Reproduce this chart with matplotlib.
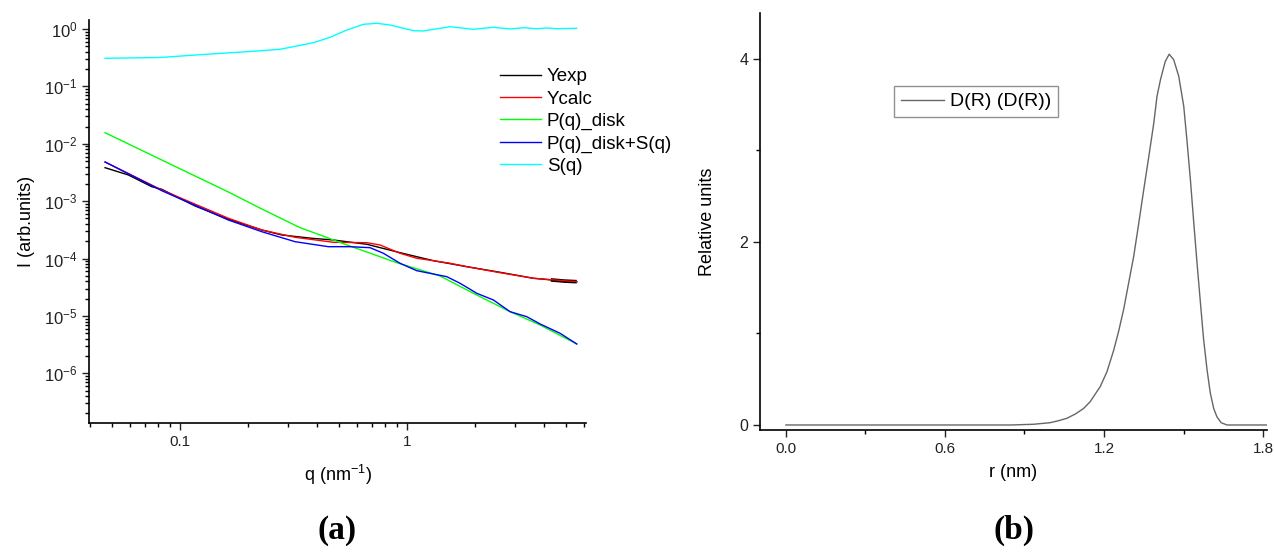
import numpy as np
import matplotlib
matplotlib.use("Agg")
import matplotlib.pyplot as plt
from matplotlib.ticker import LogLocator, NullFormatter, FuncFormatter, MultipleLocator

plt.rcParams['font.family'] = ['Liberation Sans', 'DejaVu Sans']
plt.rcParams['mathtext.fontset'] = 'custom'
plt.rcParams['mathtext.rm'] = 'Liberation Sans'
plt.rcParams['mathtext.it'] = 'Liberation Sans:italic'

# ---- panel (a): SAXS curves ----
q_exp = [0.0467, 0.0592, 0.0750, 0.0830, 0.1164, 0.1632, 0.2291, 0.2805, 0.3804,
         0.4733, 0.6645, 0.9316, 1.3058, 1.8323, 2.569, 3.601, 4.30, 4.95, 5.592]
I_exp = [3.835e-3, 2.860e-3, 1.789e-3, 1.612e-3, 8.25e-4, 4.84e-4, 3.15e-4, 2.577e-4, 2.258e-4,
         2.109e-4, 1.775e-4, 1.267e-4, 9.19e-5, 7.23e-5, 5.77e-5, 4.54e-5, 4.25e-5, 4.05e-5, 3.96e-5]

q_calc = [0.0467, 0.0830, 0.1632, 0.2291, 0.3210, 0.4733, 0.6645, 0.7606, 0.9316,
          1.1033, 1.3058, 1.5467, 1.8323, 2.569, 3.601, 5.592]
I_calc = [4.818e-3, 1.567e-3, 5.04e-4, 3.15e-4, 2.35e-4, 1.923e-4, 1.892e-4, 1.725e-4, 1.237e-4,
          1.012e-4, 9.19e-5, 8.28e-5, 7.23e-5, 5.68e-5, 4.54e-5, 3.96e-5]

q_disk = [0.0467, 0.0830, 0.1632, 0.2291, 0.3378, 0.4140, 0.5330, 0.9007, 1.3977, 1.959,
          2.843, 3.855, 5.592]
I_disk = [1.561e-2, 5.222e-3, 1.446e-3, 7.31e-4, 3.454e-4, 2.577e-4, 1.775e-4, 8.48e-5, 4.975e-5,
          2.486e-5, 1.188e-5, 6.97e-6, 3.253e-6]

q_disk_s = [0.0467, 0.0830, 0.1632, 0.2291, 0.3210, 0.4500, 0.5609, 0.6871, 0.7862, 0.9316,
            1.1033, 1.3058, 1.4958, 1.712, 2.028, 2.4006, 2.843, 3.368, 3.855, 4.721, 5.592]
I_disk_s = [4.818e-3, 1.524e-3, 4.70e-4, 2.94e-4, 1.970e-4, 1.612e-4, 1.612e-4, 1.548e-4, 1.237e-4,
            8.28e-5, 6.15e-5, 5.39e-5, 4.84e-5, 3.713e-5, 2.486e-5, 1.900e-5, 1.188e-5, 9.72e-6,
            7.26e-6, 4.996e-6, 3.253e-6]

q_s = [0.0467, 0.0816, 0.1224, 0.2034, 0.2758, 0.3865, 0.4579, 0.5427, 0.6420, 0.7354, 0.8415,
       1.066, 1.180, 1.5467, 1.959, 2.4006, 2.843, 3.253, 3.728, 4.125, 4.565, 5.592]
S_q = [0.3087, 0.3188, 0.3566, 0.4055, 0.4430, 0.5771, 0.7168, 0.9607, 1.2074, 1.2571, 1.1741,
       0.9341, 0.9230, 1.0966, 0.988, 1.0706, 1.0, 1.0535, 1.012, 1.041, 1.012, 1.0285]

# ---- panel (b): distance distribution ----
r_nm = [0.0, 0.85, 0.935, 0.997, 1.029, 1.060, 1.092, 1.123, 1.148, 1.186, 1.211, 1.237, 1.255,
        1.274, 1.293, 1.312, 1.331, 1.350, 1.369, 1.388, 1.400, 1.413, 1.431, 1.446, 1.463,
        1.482, 1.501, 1.513, 1.526, 1.539, 1.551, 1.564, 1.576, 1.589, 1.601, 1.614, 1.626,
        1.642, 1.664, 1.815]
d_r = [0.0, 0.0, 0.008, 0.025, 0.047, 0.073, 0.12, 0.18, 0.255, 0.42, 0.58, 0.82, 1.02,
       1.26, 1.55, 1.84, 2.20, 2.57, 2.93, 3.30, 3.59, 3.77, 3.97, 4.05, 3.99,
       3.81, 3.48, 3.11, 2.68, 2.20, 1.77, 1.33, 0.93, 0.60, 0.35, 0.18, 0.09,
       0.025, 0.0, 0.0]

fig = plt.figure(figsize=(12.74, 5.54), dpi=100)
ax1 = fig.add_axes([0.0699, 0.2365, 0.3901, 0.7274])
ax2 = fig.add_axes([0.5965, 0.2238, 0.3980, 0.7527])

lw = 1.0
ax1.plot(q_exp, I_exp, color='black', lw=lw, label='Yexp')
ax1.plot(q_exp[-3:], I_exp[-3:], color='black', lw=2.6, solid_capstyle='butt')  # noisy tail
ax1.plot(q_calc, I_calc, color='red', lw=lw, label='Ycalc')
ax1.plot(q_disk, I_disk, color='#00ff00', lw=lw, label='P(q)_disk')
ax1.plot(q_disk_s, I_disk_s, color='blue', lw=lw, label='P(q)_disk+S(q)')
ax1.plot(q_s, S_q, color='cyan', lw=lw, label='S(q)')
ax1.set_xscale('log')
ax1.set_yscale('log')
ax1.set_xlim(0.0397, 6.145)
ax1.set_ylim(1.367e-7, 1.435)

ax1.xaxis.set_major_locator(LogLocator(base=10, numticks=10))
ax1.xaxis.set_minor_locator(LogLocator(base=10, subs=np.arange(2, 10), numticks=10))
ax1.xaxis.set_major_formatter(FuncFormatter(lambda v, p: f"{v:g}"))
ax1.xaxis.set_minor_formatter(NullFormatter())
ax1.yaxis.set_major_locator(LogLocator(base=10, numticks=20))
ax1.yaxis.set_minor_locator(LogLocator(base=10, subs=np.arange(2, 10), numticks=20))
ax1.yaxis.set_minor_formatter(NullFormatter())

for ax in (ax1, ax2):
    ax.spines['top'].set_visible(False)
    ax.spines['right'].set_visible(False)
    ax.spines['left'].set_linewidth(1.2)
    ax.spines['bottom'].set_linewidth(1.2)
    ax.tick_params(which='major', direction='out', length=5, width=1.0, labelsize=11.5, colors='#222222')
    ax.tick_params(which='minor', direction='out', length=2.6, width=1.0)

ax1.tick_params(axis='x', which='major', labelsize=11)
ax1.tick_params(axis='y', which='major', labelsize=12)
ax1.set_xlabel('q (nm$^{-1}$)', fontsize=13, labelpad=10)
ax1.set_ylabel('I (arb.units)', fontsize=13, labelpad=6)

ax1.legend(loc='upper left', bbox_to_anchor=(500 / 1274, 1 - 68 / 554), bbox_transform=fig.transFigure,
           frameon=False, fontsize=13.5, handlelength=2.2, handletextpad=0.3, labelspacing=0.28,
           borderpad=0, borderaxespad=0)

ax2.plot(r_nm, d_r, color='#666666', lw=1.0, label='D(R) (D(R))')
ax2.set_xlim(-0.098, 1.815)
ax2.set_ylim(-0.055, 4.5)
ax2.xaxis.set_major_locator(MultipleLocator(0.6))
ax2.xaxis.set_minor_locator(MultipleLocator(0.3))
ax2.xaxis.set_major_formatter(FuncFormatter(lambda v, p: f"{v:.1f}"))
ax2.yaxis.set_major_locator(MultipleLocator(2))
ax2.yaxis.set_minor_locator(MultipleLocator(1))
ax2.tick_params(axis='x', which='major', labelsize=11)
ax2.set_xlabel('r (nm)', fontsize=13, labelpad=6)
ax2.set_ylabel('Relative units', fontsize=13, labelpad=17)
leg2 = ax2.legend(loc='upper left', bbox_to_anchor=(894 / 1274, 1 - 86 / 554), bbox_transform=fig.transFigure,
                  frameon=True, fancybox=False, fontsize=14, handlelength=2.2, handletextpad=0.35,
                  borderpad=0.35, borderaxespad=0)
leg2.get_frame().set_edgecolor('#777777')
leg2.get_frame().set_linewidth(1.0)

fig.text(337 / 1274, 1 - 530 / 554, '(a)', ha='center', va='center', fontsize=24,
         fontweight='bold', family='Liberation Serif')
fig.text(1014 / 1274, 1 - 530 / 554, '(b)', ha='center', va='center', fontsize=24,
         fontweight='bold', family='Liberation Serif')

fig.savefig('out.png', dpi=100)
